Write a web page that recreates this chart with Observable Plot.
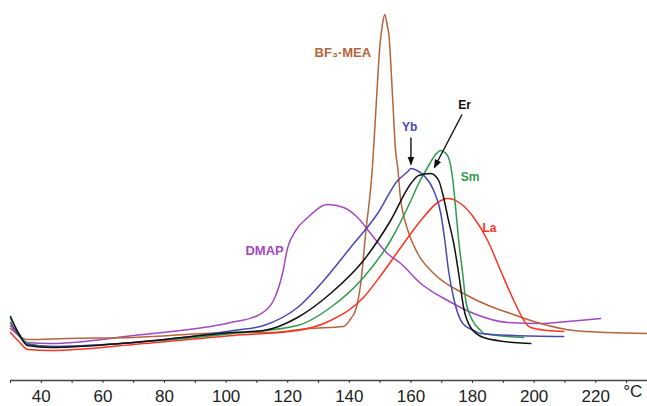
<!DOCTYPE html>
<html><head><meta charset="utf-8">
<script src="https://cdn.jsdelivr.net/npm/d3@7"></script>
<script src="https://cdn.jsdelivr.net/npm/@observablehq/plot@0.6"></script>
<style>body{margin:0;background:#fff} svg{display:block}</style>
</head><body><div id="chart"></div>
<script>
// Series names and colours
const seriesNames  = ["DMAP", "BF₃·MEA", "La", "Sm", "Yb", "Er"];
const seriesColors = ["#a448c2", "#b5643c", "#ff3322", "#2f9a4c", "#4848b2", "#111111"];

// Temperatures (°C) and heat-flow (arbitrary units)
const dmapT = [30, 33, 35.5, 43, 70, 101.5, 110.2, 112.8, 115.4, 118.3, 120, 122.6, 126.5, 133, 138.1, 142.7, 146.9, 152.4, 156.7, 163.2, 171.9, 180.4, 191.4, 202.1, 210.9, 221.6];
const dmapV = [52, 44, 38, 37, 45, 58, 65, 70, 80, 107, 133, 150, 163, 176, 173, 163, 147, 127, 117, 97, 80, 67, 58, 57, 59, 62];

const bfT = [30, 32, 35.5, 48.5, 70, 102.4, 115, 126.5, 138.1, 140.5, 142, 143.7, 145.3, 147.5, 148.8, 149.8, 150.7, 151.5, 152.3, 152.8, 154.1, 155, 155.7, 156.7, 157.4, 159, 162.2, 167.4, 177.1, 185.9, 191.4, 198.9, 202.1, 212.9, 223.9, 236.8];
const bfV = [55, 47, 41, 42, 43, 48, 48, 52, 54, 62, 70, 97, 147, 213, 280, 330, 355, 366, 355, 347, 280, 230, 213, 180, 168, 150, 127, 107, 87, 74, 68, 60, 57, 50, 48, 47];

const laT = [30, 33, 35.5, 43, 70, 102.4, 123.2, 133.9, 144.6, 150.2, 156.7, 163.2, 168.7, 171.9, 176.1, 180.4, 184.9, 189.1, 193.4, 197.9, 198.9, 204.4, 209.6];
const laV = [48, 38, 31, 30, 36, 45, 50, 60, 83, 105, 133, 160, 178, 182, 177, 163, 140, 110, 80, 55, 53, 50, 49];

const smT = [30, 33, 35.5, 43, 70, 102.4, 123.2, 133.9, 144.6, 153.4, 160, 162.5, 165.4, 168, 169.7, 171, 172.2, 173.5, 174.5, 175.5, 176.8, 177.8, 180, 182.6, 183.6, 196.6];
const smV = [62, 46, 37, 34, 38, 47, 55, 73, 103, 140, 180, 197, 213, 226, 230, 228, 223, 203, 173, 140, 107, 80, 60, 50, 47, 43];

const ybT = [30, 33, 35.5, 43, 70, 102.4, 112.2, 123.2, 131.7, 140.4, 149.2, 155.7, 159, 160, 162, 164.2, 167.4, 169.7, 171, 172.2, 173.9, 176.8, 180.4, 182.6, 193.4, 209.6];
const ybV = [58, 44, 36, 34, 38, 50, 55, 73, 100, 133, 167, 200, 209, 212, 210, 205, 190, 167, 140, 110, 82, 57, 50, 47, 45, 44];

const erT = [30, 33, 35.5, 43, 70, 102.4, 112.2, 123.2, 133.9, 144.6, 153.4, 160, 162.5, 166.4, 169, 170.6, 172.2, 173.9, 175.5, 177.1, 179.4, 183.6, 193.4, 198.9];
const erV = [64, 45, 35, 33, 38, 48, 50, 63, 87, 120, 160, 197, 205, 207, 200, 183, 160, 137, 107, 73, 53, 43, 38, 37];

// Axis ticks
const xTicks = [40, 60, 80, 100, 120, 140, 160, 180, 200, 220];
const xMinorTicks = [30, 50, 70, 90, 110, 130, 150, 170, 190, 210, 230];
const unitLabel = "°C";
const unitT = [232];

// Curve labels (series, position in data units)
const labelSeries = ["BF₃·MEA", "DMAP", "Yb", "Er", "Sm", "La"];
const labelT = [137.9, 112.5, 159.6, 177.4, 179.2, 185.5];
const labelV = [328, 130, 253, 275, 203, 152];
const labelSize = [13, 13, 12, 12, 12, 12];

// Pointer arrows (Yb, Er)
const arrowT1 = [160, 176.6];
const arrowV1 = [243, 266];
const arrowT2 = [160, 167.6];
const arrowV2 = [216, 213];

const seriesT = [dmapT, bfT, laT, smT, ybT, erT];
const seriesV = [dmapV, bfV, laV, smV, ybV, erV];
const rows = seriesNames.flatMap((s, i) => seriesT[i].map((t, j) => ({series: s, T: t, v: seriesV[i][j]})));
const labels = labelSeries.map((s, i) => ({series: s, T: labelT[i], v: labelV[i], size: labelSize[i]}));
const arrows = arrowT1.map((t, i) => ({x1: t, y1: arrowV1[i], x2: arrowT2[i], y2: arrowV2[i]}));

function filledArrow(color, context) {
  const ns = "http://www.w3.org/2000/svg";
  const doc = (context && context.document) || document;
  const m = doc.createElementNS(ns, "marker");
  m.setAttribute("viewBox", "-8 -4 9 8");
  m.setAttribute("markerWidth", "9");
  m.setAttribute("markerHeight", "8");
  m.setAttribute("markerUnits", "userSpaceOnUse");
  m.setAttribute("orient", "auto");
  m.setAttribute("refX", "0");
  m.setAttribute("refY", "0");
  const p = doc.createElementNS(ns, "path");
  p.setAttribute("d", "M-8,-3.5L1,0L-8,3.5Z");
  p.setAttribute("fill", "#111");
  p.setAttribute("stroke", "none");
  m.appendChild(p);
  return m;
}

const font = "'Liberation Sans', Arial, sans-serif";

const chart = Plot.plot({
  width: 647,
  height: 406,
  marginLeft: 10,
  marginRight: 0,
  marginTop: 0,
  marginBottom: 26,
  style: {fontFamily: font, background: "#fff", overflow: "visible"},
  x: {domain: [30, 236.8]},
  y: {domain: [0, 380], axis: null},
  color: {domain: seriesNames, range: seriesColors},
  marks: [
    Plot.ruleY([0], {stroke: "#444", strokeWidth: 1.5}),
    Plot.axisX(xMinorTicks, {tickSize: 3, tickFormat: () => "", stroke: "#333"}),
    Plot.axisX(xTicks, {tickSize: 3, tickPadding: 6, fontSize: 17, fill: "#222", stroke: "#333", fontFamily: font}),
    Plot.text([{T: unitT[0]}], {x: "T", frameAnchor: "bottom", dy: 16, text: () => unitLabel, fontSize: 17, fill: "#222"}),
    Plot.line(rows, {x: "T", y: "v", z: "series", stroke: "series", strokeWidth: 1.5, curve: "monotone-x"}),
    Plot.text(labels, {x: "T", y: "v", text: "series", fill: "series", fontWeight: "bold", fontSize: "size", fontFamily: font}),
    Plot.link(arrows, {x1: "x1", y1: "y1", x2: "x2", y2: "y2", stroke: "#111", strokeWidth: 1.4, markerEnd: filledArrow})
  ]
});
document.getElementById("chart").appendChild(chart);
</script>
</body></html>
